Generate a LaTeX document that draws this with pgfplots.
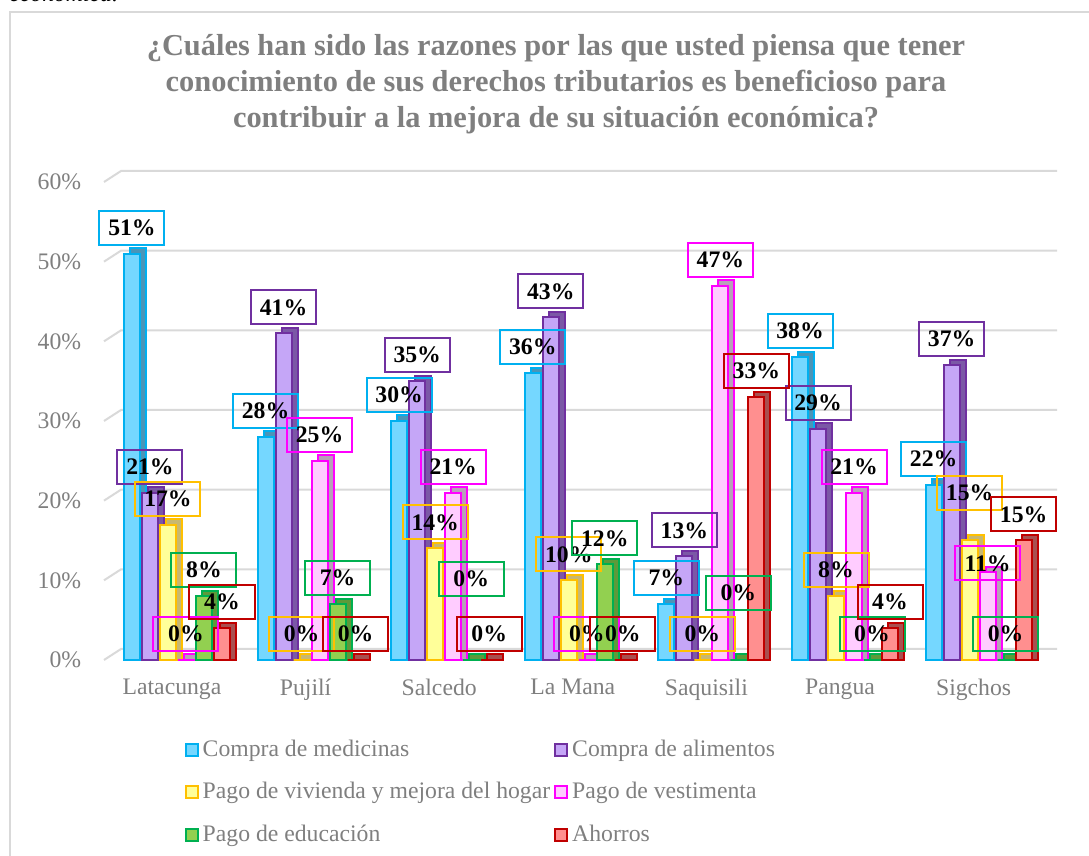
\documentclass[border=0pt]{standalone}
\usepackage{fontspec}
\setmainfont{Liberation Serif}
\usepackage{pgfplots}
\usepackage{pgfplotstable}
\pgfplotsset{compat=1.18}

\definecolor{medB}{HTML}{00B0F0}\definecolor{medF}{HTML}{75D7FF}\definecolor{medS}{HTML}{4A95B8}
\definecolor{aliB}{HTML}{7030A0}\definecolor{aliF}{HTML}{C5A6F7}\definecolor{aliS}{HTML}{7B58A6}
\definecolor{vivB}{HTML}{FFC000}\definecolor{vivF}{HTML}{FFFF99}\definecolor{vivS}{HTML}{C8B870}
\definecolor{vesB}{HTML}{FF00FF}\definecolor{vesF}{HTML}{FFCCFF}\definecolor{vesS}{HTML}{B8A0B8}
\definecolor{eduB}{HTML}{00B050}\definecolor{eduF}{HTML}{92D050}\definecolor{eduS}{HTML}{5E9A3A}
\definecolor{ahoB}{HTML}{C00000}\definecolor{ahoF}{HTML}{FF8F8F}\definecolor{ahoS}{HTML}{A85050}
\definecolor{txt}{HTML}{7F7F7F}
\definecolor{grid}{HTML}{D9D9D9}

% porcentajes por canton; lviv/lves/ledu = altura de la etiqueta (movidas como en el original)
\pgfplotstableread{
x med ali viv ves edu aho lviv lves ledu
0 51 21 17 0 8 4 17 0 8
1 28 41 0 25 7 0 0 25 7
2 30 35 14 21 0 0 14 21 6.9
3 36 43 10 0 12 0 10 0 12
4 7 13 0 47 0 33 0 47 5.15
5 38 29 8 21 0 4 8 21 0
6 22 37 15 11 0 15 17.76 8.87 0
}\datos

\newcommand{\fs}{\fontsize{11.85}{14}\selectfont}

% barra "3D": cara trasera oscura (un poco mas alta y corrida) + cara frontal
\newcommand{\serie}[4]{%
  \addplot[ybar, bar width=8pt, bar shift=#3, draw=#1B, fill=#1S,
    line width=1pt, forget plot] table[x=x, y expr=\thisrow{#1}+0.7] {\datos};
  \addplot[ybar, bar width=8pt, bar shift=#2, draw=#1B, fill=#1F,
    line width=1pt] table[x=x, y=#1] {\datos};
  \addlegendentry{#4}
}
% etiquetas encima de todo: {serie}{desplazamiento}{columna de altura}
\newcommand{\etiq}[3]{%
  \addplot[ybar, bar width=8pt, bar shift=#2, draw=none, fill=none, forget plot,
    point meta=explicit symbolic, nodes near coords={\pgfplotspointmeta\%},
    every node near coord/.append style={draw=#1B, line width=1pt, text=black,
      font=\bfseries\fs, minimum width=32.5pt, minimum height=17pt,
      inner sep=0pt, anchor=south, xshift=#2, yshift=4pt}]
    table[x=x, y=#3, meta=#1] {\datos};
}

\begin{document}
\begin{tikzpicture}
\useasboundingbox (0,0) rectangle (544.5pt,428pt);
\begin{scope}
\clip (0,0) rectangle (544.5pt,428pt);
\node[anchor=base west, font=\itshape\fs, inner sep=0pt] at (4.5pt,427pt) {económica.};
\draw[grid, line width=1pt] (5pt,0) -- (5pt,422pt) -- (546pt,422pt);
\end{scope}

\node[font=\bfseries\fontsize{15.2}{18}\selectfont, text=txt, align=center] at (278pt,386pt)
  {¿Cuáles han sido las razones por las que usted piensa que tener\\
   conocimiento de sus derechos tributarios es beneficioso para\\
   contribuir a la mejora de su situación económica?};

\begin{axis}[
    at={(54.1pt,98pt)}, anchor=south west,
    width=467.6pt, height=239pt, scale only axis,
    xmin=-0.5, xmax=6.5, ymin=0, ymax=60,
    clip=false,
    axis line style={draw=none},
    tick style={draw=none},
    ytick={0,10,20,30,40,50,60},
    yticklabels={0\%,10\%,20\%,30\%,40\%,50\%,60\%},
    xtick={0,1,2,3,4,5,6},
    xticklabels={Latacunga,Pujilí,Salcedo,La Mana,Saquisili,Pangua,Sigchos},
    ticklabel style={font=\fs, text=txt},
    yticklabel style={xshift=-10pt},
    xticklabel style={yshift=-6pt, xshift=-1.5pt},
    legend columns=2,
    legend cell align=left,
    legend image code/.code={\draw[#1, line width=1pt] (0pt,-3pt) rectangle (6pt,3pt);},
    legend style={draw=none, fill=none, font=\fs, text=txt,
      at={(0.075,-0.15)}, anchor=north west, row sep=7.5pt,
      /tikz/every even column/.append style={column sep=0pt}},
]
\pgfplotsinvokeforeach{0,10,20,30,40,50,60}{
  \draw[grid, line width=1pt] ([xshift=-2.1pt]axis cs:-0.5,#1)
    -- ([xshift=6.4pt, yshift=5.5pt]axis cs:-0.5,#1)
    -- ([xshift=6.8pt, yshift=5.5pt]axis cs:6.5,#1);
}
\serie{med}{-21.5pt}{-18.5pt}{Compra de medicinas}
\serie{ali}{-12.5pt}{-9.5pt}{Compra de alimentos}
\serie{viv}{-3.5pt}{-0.5pt}{Pago de vivienda y mejora del hogar}
\serie{ves}{5.5pt}{8.5pt}{Pago de vestimenta}
\serie{edu}{14.5pt}{17.5pt}{Pago de educación}
\serie{aho}{23.5pt}{26.5pt}{Ahorros}
\etiq{med}{-21.5pt}{med}
\etiq{ali}{-12.5pt}{ali}
\etiq{viv}{-3.5pt}{lviv}
\etiq{ves}{5.5pt}{lves}
\etiq{edu}{14.5pt}{ledu}
\etiq{aho}{23.5pt}{aho}
\end{axis}
\end{tikzpicture}
\end{document}
